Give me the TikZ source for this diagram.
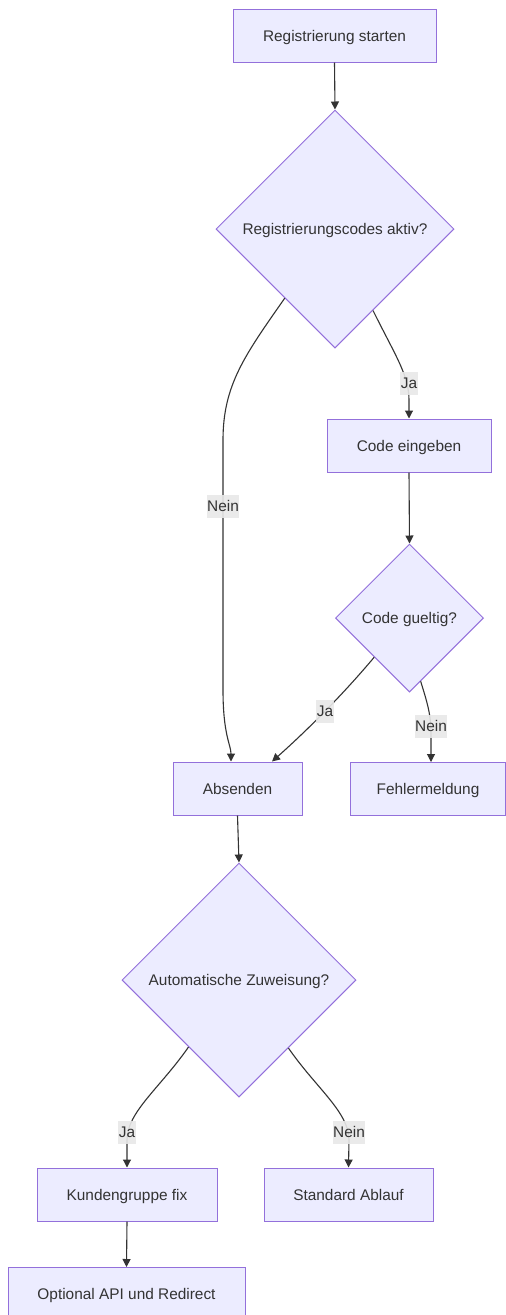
\documentclass[tikz,border=0pt]{standalone}
\usepackage{fontspec}
\setmainfont{Liberation Sans}
\usetikzlibrary{shapes.geometric,arrows.meta}
\definecolor{nodefill}{HTML}{ECECFF}
\definecolor{nodeborder}{HTML}{9370DB}
\definecolor{txt}{HTML}{333333}
\definecolor{lblbg}{HTML}{E8E8E8}
\begin{document}
\begin{tikzpicture}[x=1pt,y=-1pt,
  mfont/.style={font=\fontsize{15.4}{18}\selectfont},
  box/.style={draw=nodeborder, fill=nodefill, line width=1pt, text=txt, mfont, inner sep=0pt, minimum height=53pt, text height=12pt, text depth=0.5pt},
  decision/.style={diamond, aspect=1, draw=nodeborder, fill=nodefill, line width=1pt, text=txt, mfont, inner sep=0pt, text height=12pt, text depth=0.5pt},
  flow/.style={draw=txt, line width=1.1pt, -{Triangle[length=8pt,width=8pt]}},
  lbl/.style={fill=lblbg, fill opacity=0.9, text opacity=1, text=txt, mfont, inner xsep=0.5pt, inner ysep=0pt, minimum height=23pt, text height=12pt, text depth=0.5pt}]
\useasboundingbox (0,0) rectangle (506,1315);
\fill[white] (0,0) rectangle (506,1315);

\node[box, minimum width=203pt] (start) at (334.5,35.5) {Registrierung starten};
\node[decision, minimum width=238pt, minimum height=238pt] (d1) at (335,229) {Registrierungscodes aktiv?};
\node[box, minimum width=164pt] (code) at (409,445.5) {Code eingeben};
\node[decision, minimum width=148pt, minimum height=148pt] (d2) at (409.5,618) {Code gueltig?};
\node[box, minimum width=129pt] (abs) at (237.5,788.5) {Absenden};
\node[box, minimum width=155pt] (fehler) at (428,789) {Fehlermeldung};
\node[decision, minimum width=234pt, minimum height=234pt] (d3) at (239,980) {Automatische Zuweisung?};
\node[box, minimum width=180pt] (kg) at (127,1194.5) {Kundengruppe fix};
\node[box, minimum width=169pt] (std) at (348.5,1194.5) {Standard Ablauf};
\node[box, minimum width=237pt] (opt) at (126.5,1294) {Optional API und Redirect};

\draw[flow] (start.south) -- (d1.north);
\draw[flow] (d1.295) .. controls (395,355) and (409,375) .. (409,400) -- (code.north);
\draw[flow] (d1.234) .. controls (245,355) and (223,385) .. (223,440) -- (223,690) .. controls (223,735) and (231,745) .. ([xshift=-6.5pt]abs.north);
\draw[flow] (code.south) -- (d2.north);
\draw[flow] (d2.228) .. controls (340,698) and (302,735) .. ([xshift=34.5pt]abs.north);
\draw[flow] (d2.280) .. controls (428,705) and (431,715) .. (431,735) -- ([xshift=3pt]fehler.north);
\draw[flow] (abs.south) -- (d3.north);
\draw[flow] (d3.233) .. controls (160,1088) and (127,1112) .. (127,1140) -- (kg.north);
\draw[flow] (d3.306) .. controls (316,1088) and (349,1112) .. (349,1140) -- (std.north);
\draw[flow] (kg.south) -- (opt.north);

\node[lbl] (l1) at (409,383) {Ja};
\node[lbl] (l2) at (223,506) {Nein};
\node[lbl] (l3) at (325,711) {Ja};
\node[lbl] (l4) at (431,726) {Nein};
\node[lbl] (l5) at (127,1132) {Ja};
\node[lbl] (l6) at (349,1132) {Nein};
\end{tikzpicture}
\end{document}
